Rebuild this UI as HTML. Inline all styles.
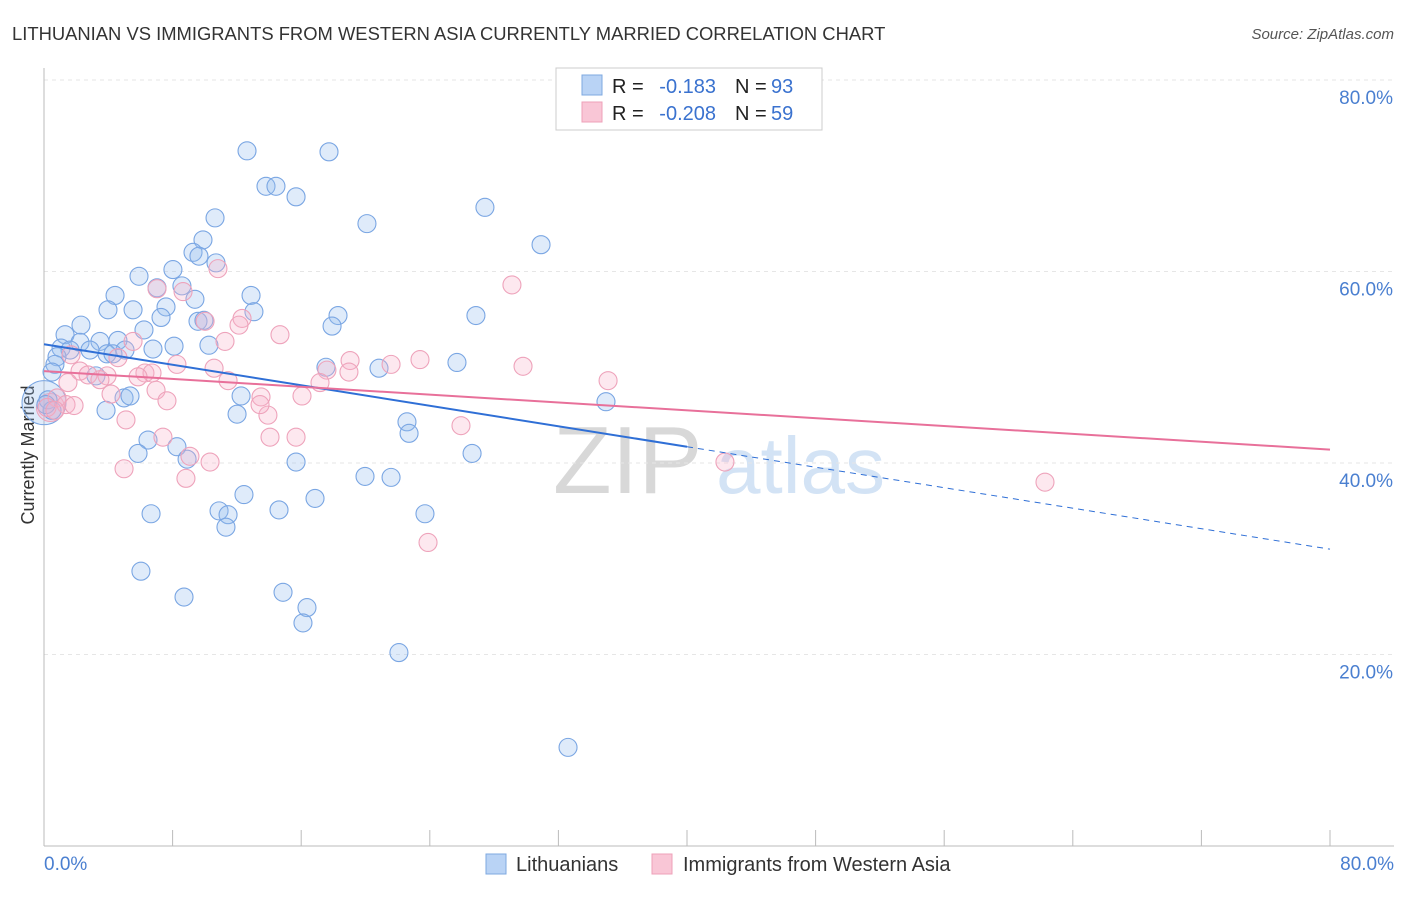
<!DOCTYPE html>
<html><head><meta charset="utf-8"><style>
body{margin:0;background:#fff;font-family:"Liberation Sans",sans-serif;}
svg text{font-family:"Liberation Sans",sans-serif;}
</style></head><body>
<svg id="c" width="1406" height="892" xmlns="http://www.w3.org/2000/svg">
<text x="12" y="40" font-size="18.4" fill="#333">LITHUANIAN VS IMMIGRANTS FROM WESTERN ASIA CURRENTLY MARRIED CORRELATION CHART</text>
<text x="1394" y="39" font-size="15" fill="#555" font-style="italic" text-anchor="end">Source: ZipAtlas.com</text>
<text x="34" y="455" font-size="18" fill="#333" text-anchor="middle" transform="rotate(-90 34 455)">Currently Married</text>
<g>
<text x="553" y="493" font-size="96" fill="#d8d8d8" font-family="Liberation Serif,serif">ZIP</text>
<text x="716" y="493" font-size="80" fill="#d3e3f5">atlas</text>
</g>
<g id="grid"></g><g id="axes"></g><g id="pts"></g><g id="trend"></g>
<g>
<rect x="556" y="68" width="266" height="62" fill="#fff" stroke="#ccc"/>
<rect x="582" y="75" width="20" height="20" fill="#b9d3f5" stroke="#7ea8e0"/>
<rect x="582" y="102" width="20" height="20" fill="#f9c6d6" stroke="#eea0b8"/>
<text x="612" y="93" font-size="20" fill="#222">R =</text>
<text x="716" y="93" font-size="20" fill="#3a72cf" text-anchor="end">-0.183</text>
<text x="735" y="93" font-size="20" fill="#222">N =</text>
<text x="771" y="93" font-size="20" fill="#3a72cf">93</text>
<text x="612" y="120" font-size="20" fill="#222">R =</text>
<text x="716" y="120" font-size="20" fill="#3a72cf" text-anchor="end">-0.208</text>
<text x="735" y="120" font-size="20" fill="#222">N =</text>
<text x="771" y="120" font-size="20" fill="#3a72cf">59</text>
</g>
<g>
<rect x="486" y="854" width="20" height="20" fill="#b9d3f5" stroke="#7ea8e0"/>
<text x="516" y="871" font-size="20" fill="#333">Lithuanians</text>
<rect x="652" y="854" width="20" height="20" fill="#f9c6d6" stroke="#eea0b8"/>
<text x="683" y="871" font-size="20" fill="#333">Immigrants from Western Asia</text>
</g>
</svg>
<script>
const yTicks=[20,40,60,80];
const yTickLabels=["20.0%","40.0%","60.0%","80.0%"];
const xTicks=[0,8,16,24,32,40,48,56,64,72,80];
const blueX=[12.63,17.73,13.81,14.43,15.68,10.64,20.09,27.43,30.92,9.89,9.27,9.64,5.91,8.02,10.70,12.88,4.42,7.03,8.58,9.39,3.98,5.54,7.59,13.06,18.29,7.28,9.58,9.95,17.92,26.87,2.30,1.31,6.22,4.60,3.48,2.24,1.06,1.62,2.86,5.04,6.78,8.09,10.26,0.81,3.92,4.29,0.68,0.50,17.54,20.84,25.69,3.23,4.98,5.35,12.26,3.86,12.01,34.96,22.58,22.71,6.47,8.27,5.85,8.90,26.63,15.68,19.97,21.59,12.44,16.86,10.89,11.45,14.62,23.70,6.66,11.32,6.03,8.71,14.87,16.36,16.11,22.08,32.60,0.25,0.50,0.12];
const blueY=[72.6,72.5,68.9,68.9,67.8,65.6,65.0,66.7,62.8,63.3,62.0,61.6,59.5,60.2,60.9,57.5,57.5,58.3,58.5,57.1,56.0,56.0,56.3,55.8,55.4,55.2,54.8,54.9,54.3,55.4,54.4,53.4,53.9,52.8,52.7,52.6,52.0,51.8,51.8,51.8,51.9,52.2,52.3,51.1,51.4,51.4,50.3,49.5,50.0,49.9,50.5,49.1,46.8,47.0,47.0,45.5,45.1,46.4,44.3,43.1,42.4,41.7,41.0,40.4,41.0,40.1,38.6,38.5,36.7,36.3,35.0,34.6,35.1,34.7,34.7,33.3,28.7,26.0,26.5,24.9,23.3,20.2,10.3,46.6,45.5,46.1];
const pinkX=[10.82,29.11,7.03,8.65,12.32,12.13,10.02,14.68,5.54,11.26,1.68,4.60,23.39,19.04,21.59,8.27,10.58,29.80,17.60,18.97,2.24,6.28,6.72,2.74,3.92,5.85,3.48,11.45,35.09,17.17,1.49,6.97,4.17,13.50,7.65,16.05,0.81,1.37,1.87,0.19,0.68,13.93,5.10,25.94,14.06,15.68,7.40,9.08,10.33,4.98,8.83,42.36,62.27,23.89,13.44];
const pinkY=[60.3,58.6,58.2,57.9,55.1,54.4,54.8,53.4,52.7,52.7,51.3,51.0,50.8,50.7,50.3,50.3,49.9,50.1,49.7,49.5,49.6,49.4,49.4,49.2,49.1,49.0,48.7,48.6,48.6,48.4,48.4,47.6,47.2,46.9,46.5,47.0,46.8,46.1,46.0,45.8,45.5,45.0,44.5,43.9,42.7,42.7,42.7,40.7,40.1,39.4,38.4,40.1,38.0,31.7,46.1];
const blueTrend=[52.4,31.0];
const pinkTrend=[49.6,41.4];
const xs=v=>44+v*16.075, ys=v=>846-v*9.575;
const NS="http://www.w3.org/2000/svg";
function mk(p,t,a){const e=document.createElementNS(NS,t);for(const k in a)e.setAttribute(k,a[k]);p.appendChild(e);return e;}
const grid=document.getElementById('grid'),axes=document.getElementById('axes'),pts=document.getElementById('pts'),tr=document.getElementById('trend');
yTicks.forEach((v,i)=>{
 const l=mk(grid,'line',{x1:44,x2:1394,y1:ys(v),y2:ys(v),stroke:'#e6e6e6','stroke-dasharray':'4,4'});
 
 
 const t=mk(axes,'text',{x:1393,y:ys(v)+24,'font-size':19,fill:'#4a7fd0','text-anchor':'end'});t.textContent=yTickLabels[i];
 
 
});
const ax=mk(axes,'line',{x1:44,x2:44,y1:68,y2:846,stroke:'#bbb'});


const bx=mk(axes,'line',{x1:44,x2:1394,y1:846,y2:846,stroke:'#bbb'});


xTicks.forEach(v=>{const l=mk(axes,'line',{x1:xs(v),x2:xs(v),y1:830,y2:846,stroke:'#bbb'});
 
 });
const x0=mk(axes,'text',{x:44,y:870,'font-size':19,fill:'#4a7fd0'});x0.textContent='0.0%';


const x1=mk(axes,'text',{x:1394,y:870,'font-size':19,fill:'#4a7fd0','text-anchor':'end'});x1.textContent='80.0%';


const BF='rgba(150,190,240,0.3)',BS='#7aa6e3',PF='rgba(248,180,202,0.3)',PS='#eea3bb';
const bb=mk(pts,'circle',{cx:xs(0),cy:ys(46.3),r:22,fill:BF,stroke:BS});


const pb=mk(pts,'circle',{cx:xs(0.4),cy:ys(45.8),r:14,fill:PF,stroke:PS});


blueX.forEach((v,i)=>{const c=mk(pts,'circle',{cx:xs(v),cy:ys(blueY[i]),r:9,fill:BF,stroke:BS,'stroke-width':1.1});
 
 });
pinkX.forEach((v,i)=>{const c=mk(pts,'circle',{cx:xs(v),cy:ys(pinkY[i]),r:9,fill:PF,stroke:PS,'stroke-width':1.1});
 
 });
const bm=blueTrend[0]+(blueTrend[1]-blueTrend[0])*0.5;
const t1=mk(tr,'line',{x1:xs(0),y1:ys(blueTrend[0]),x2:xs(40),y2:ys(bm),stroke:'#2f6fd6','stroke-width':2});


const t2=mk(tr,'line',{x1:xs(40),y1:ys(bm),x2:xs(80),y2:ys(blueTrend[1]),stroke:'#2f6fd6','stroke-width':1,'stroke-dasharray':'6,5'});


const t3=mk(tr,'line',{x1:xs(0),y1:ys(pinkTrend[0]),x2:xs(80),y2:ys(pinkTrend[1]),stroke:'#e8709a','stroke-width':2});


</script>
</body></html>
